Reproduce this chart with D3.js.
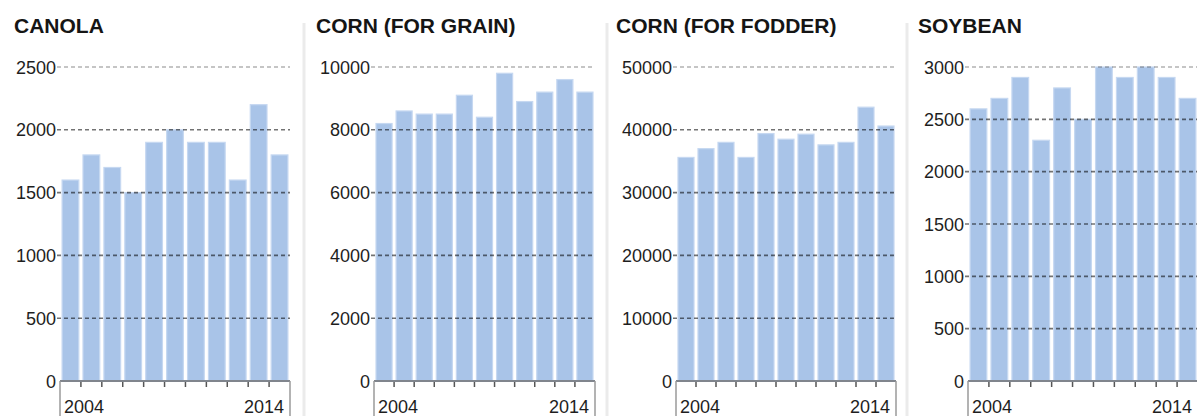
<!DOCTYPE html>
<html>
<head>
<meta charset="utf-8">
<script src="https://cdn.jsdelivr.net/npm/d3@7"></script>
<style>
  html, body { margin: 0; padding: 0; background: #ffffff; }
  svg { display: block; }
  text { font-family: "Liberation Sans", Arial, sans-serif; }
</style>
</head>
<body>
<svg id="chart" width="1197" height="416"></svg>
<script>
// ---- data ----
const years = ["2004","2005","2006","2007","2008","2009","2010","2011","2012","2013","2014"];
const yearLabels = ["2004", "2014"];

const titles = ["CANOLA", "CORN (FOR GRAIN)", "CORN (FOR FODDER)", "SOYBEAN"];

const canola     = [1600, 1800, 1700, 1500, 1900, 2000, 1900, 1900, 1600, 2200, 1800];
const cornGrain  = [8200, 8600, 8500, 8500, 9100, 8400, 9800, 8900, 9200, 9600, 9200];
const cornFodder = [35600, 37000, 38000, 35600, 39400, 38500, 39300, 37600, 38000, 43600, 40600];
const soybean    = [2600, 2700, 2900, 2300, 2800, 2500, 3000, 2900, 3000, 2900, 2700];

const canolaTicks     = [0, 500, 1000, 1500, 2000, 2500];
const cornGrainTicks  = [0, 2000, 4000, 6000, 8000, 10000];
const cornFodderTicks = [0, 10000, 20000, 30000, 40000, 50000];
const soybeanTicks    = [0, 500, 1000, 1500, 2000, 2500, 3000];

const seriesList = [canola, cornGrain, cornFodder, soybean];
const tickList = [canolaTicks, cornGrainTicks, cornFodderTicks, soybeanTicks];

// ---- layout (positions only) ----
const layout = [
  { titleX: 14,  x0: 60,  x1: 290,  sep: null },
  { titleX: 316, x0: 374, x1: 595,  sep: 304 },
  { titleX: 616, x0: 676, x1: 896,  sep: 607 },
  { titleX: 918, x0: 968, x1: 1198, sep: 907 }
];
const yTop = 67, yBase = 381;

const svg = d3.select("#chart");

seriesList.forEach((values, i) => {
  const L = layout[i];
  const ticks = tickList[i];
  const g = svg.append("g");

  if (L.sep !== null) {
    g.append("line")
      .attr("x1", L.sep).attr("x2", L.sep)
      .attr("y1", 23).attr("y2", 416)
      .attr("stroke", "#ebebeb").attr("stroke-width", 3);
  }

  g.append("text")
    .attr("x", L.titleX).attr("y", 33)
    .attr("font-size", 21).attr("font-weight", "bold")
    .attr("fill", "#151515")
    .text(titles[i]);

  const x = d3.scaleBand().domain(years).range([L.x0, L.x1])
    .paddingInner(0.2).paddingOuter(0.1);
  const y = d3.scaleLinear().domain([0, d3.max(ticks)]).range([yBase, yTop]);

  // bars
  g.selectAll("rect.bar").data(values).enter().append("rect")
    .attr("class", "bar")
    .attr("x", (d, j) => x(years[j]))
    .attr("width", x.bandwidth())
    .attr("y", d => y(d))
    .attr("height", d => yBase - y(d))
    .attr("fill", "#a9c4e8")
    .attr("stroke", "#c6d8f1")
    .attr("stroke-width", 1.2);

  // y axis labels via d3 axis
  const yAxis = d3.axisLeft(y).tickValues(ticks).tickSize(0).tickPadding(0)
    .tickFormat(d3.format("d"));
  const ya = g.append("g").attr("transform", `translate(${L.x0 - 4},0)`).call(yAxis);
  ya.select(".domain").remove();
  ya.selectAll("text")
    .attr("font-size", 18).attr("fill", "#1e1e1e")
    .attr("font-family", "Liberation Sans, Arial, sans-serif")
    .attr("dy", "0.34em");

  // gridlines
  g.selectAll("line.grid").data(ticks.filter(t => t > 0)).enter().append("line")
    .attr("class", "grid")
    .attr("x1", L.x0 - 3).attr("x2", L.x1)
    .attr("y1", d => y(d)).attr("y2", d => y(d))
    .attr("stroke", "#000")
    .attr("stroke-opacity", d => d === d3.max(ticks) ? 0.3 : 0.55)
    .attr("stroke-width", 1.6)
    .attr("stroke-dasharray", "4,3");

  // baseline
  g.append("line")
    .attr("x1", L.x0).attr("x2", L.x1)
    .attr("y1", yBase).attr("y2", yBase)
    .attr("stroke", "#80858d").attr("stroke-width", 2);

  // ticks at band boundaries
  const step = x.step();
  const inner = years.slice(1).map(yr => x(yr) - step * 0.1);
  g.selectAll("line.xt").data(inner).enter().append("line")
    .attr("class", "xt")
    .attr("x1", d => d).attr("x2", d => d)
    .attr("y1", yBase + 1).attr("y2", yBase + 6)
    .attr("stroke", "#555").attr("stroke-width", 1.5);

  // end verticals
  [L.x0, L.x1].forEach(xv => {
    g.append("line")
      .attr("x1", xv).attr("x2", xv)
      .attr("y1", yBase).attr("y2", 416)
      .attr("stroke", "#9a9a9a").attr("stroke-width", 1.5);
  });

  // year labels
  g.append("text")
    .attr("x", L.x0 + 4).attr("y", 413)
    .attr("font-size", 18).attr("fill", "#1e1e1e")
    .text(yearLabels[0]);
  g.append("text")
    .attr("x", L.x1 - 6).attr("y", 413)
    .attr("text-anchor", "end")
    .attr("font-size", 18).attr("fill", "#1e1e1e")
    .text(yearLabels[1]);
});
</script>
</body>
</html>
